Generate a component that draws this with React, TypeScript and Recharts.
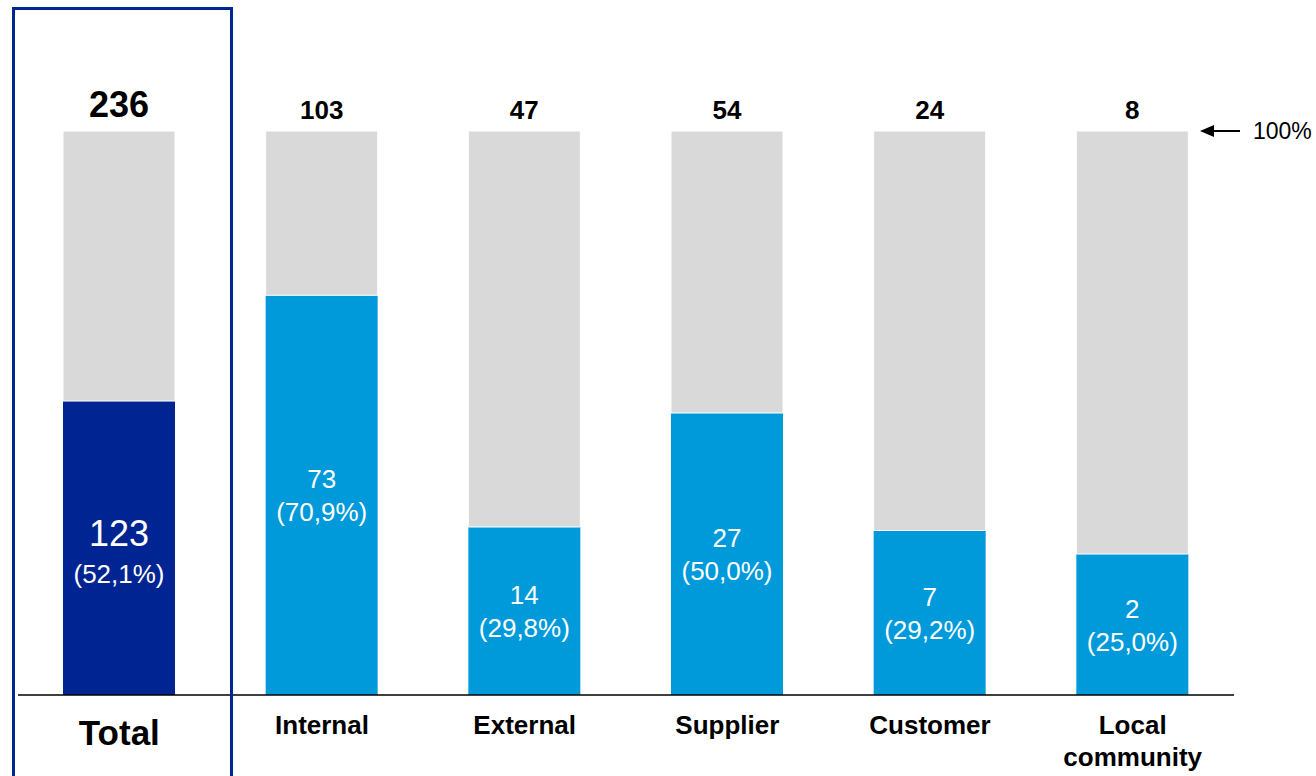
import { BarChart, Bar, XAxis, YAxis, Cell, LabelList, ReferenceLine } from 'recharts'

const categorias = ['Total', 'Internal', 'External', 'Supplier', 'Customer', 'Local community']
const totais     = [236, 103, 47, 54, 24, 8]
const casos      = [123, 73, 14, 27, 7, 2]

const MARINHO = '#002491'
const AZUL    = '#009ADB'
const CINZA   = '#D9D9D9'
const FONTE   = '"Liberation Sans", Arial, sans-serif'

const dados = categorias.map((nome, i) => {
  const pct = (casos[i] / totais[i]) * 100
  return { nome, total: totais[i], casos: casos[i], pct, resto: 100 - pct }
})

const fmtPct = (v: number) => `(${v.toFixed(1).replace('.', ',')}%)`

const TickCategoria = ({ x, y, payload }: any) => {
  const nome: string = payload.value
  if (nome === 'Total') {
    return (
      <text x={x} y={y + 37} textAnchor="middle" dominantBaseline="central" fontFamily={FONTE} fontWeight="bold" fontSize={35} fill="#000">
        {nome}
      </text>
    )
  }
  const linhas = nome === 'Local community' ? ['Local', 'community'] : [nome]
  return (
    <text x={x} y={y + 30} textAnchor="middle" fontFamily={FONTE} fontWeight="bold" fontSize={26} fill="#000">
      {linhas.map((l, i) => (
        <tspan key={l} x={x} dy={i === 0 ? 0 : 32} dominantBaseline="central">{l}</tspan>
      ))}
    </text>
  )
}

const RotuloInterno = ({ x, y, width, height, index }: any) => {
  const d = dados[index]
  const cx = x + width / 2
  const cy = y + height / 2
  const ehTotal = index === 0
  return (
    <g fontFamily={FONTE} fill="#fff" textAnchor="middle">
      <text x={cx} y={ehTotal ? cy - 15 : cy - 16} dominantBaseline="central" fontSize={ehTotal ? 36 : 26} fill="#fff">{d.casos}</text>
      <text x={cx} y={ehTotal ? cy + 26 : cy + 17} dominantBaseline="central" fontSize={26} fill="#fff">{fmtPct(d.pct)}</text>
    </g>
  )
}

const RotuloTopo = ({ x, y, width, index }: any) => {
  const ehTotal = index === 0
  return (
    <text x={x + width / 2} y={ehTotal ? y - 27 : y - 21} textAnchor="middle" dominantBaseline="central"
      fontFamily={FONTE} fontWeight="bold" fontSize={ehTotal ? 36 : 26} fill="#000">
      {dados[index].total}
    </text>
  )
}

const Seta100 = ({ x2, y1 }: any) => (
  <g>
    <line x1={x2 - 22} y1={y1} x2={x2 + 6} y2={y1} stroke="#000" strokeWidth={2} />
    <polygon points={`${x2 - 34},${y1} ${x2 - 20},${y1 - 6} ${x2 - 20},${y1 + 6}`} fill="#000" />
    <text x={x2 + 19} y={y1} dominantBaseline="central" fontFamily={FONTE} fontSize={23} fill="#000">100%</text>
  </g>
)

export default function App() {
  return (
    <div style={{ position: 'absolute', left: 0, top: 0, width: 1316, height: 776, overflow: 'hidden', background: '#fff' }}>
      <BarChart width={1316} height={776} data={dados} margin={{ top: 131, right: 82, left: 18, bottom: 51 }}>
        <XAxis
          dataKey="nome"
          height={30}
          axisLine={{ stroke: '#000', strokeWidth: 1.5 }}
          tickLine={false}
          tickSize={0}
          tickMargin={0}
          interval={0}
          tick={<TickCategoria />}
        />
        <YAxis hide domain={[0, 100]} />
        <Bar dataKey="pct" stackId="a" barSize={112} isAnimationActive={false}>
          {dados.map((d, i) => <Cell key={d.nome} fill={i === 0 ? MARINHO : AZUL} />)}
          <LabelList dataKey="casos" content={<RotuloInterno />} />
        </Bar>
        <Bar dataKey="resto" stackId="a" barSize={112} fill={CINZA} stroke="#fff" strokeWidth={1} isAnimationActive={false}>
          <LabelList dataKey="total" content={<RotuloTopo />} />
        </Bar>
        <ReferenceLine y={100} stroke="none" ifOverflow="visible" shape={<Seta100 />} />
      </BarChart>
      <div style={{ position: 'absolute', left: 12, top: 7, width: 215, height: 800, border: `3px solid ${MARINHO}` }} />
    </div>
  )
}
